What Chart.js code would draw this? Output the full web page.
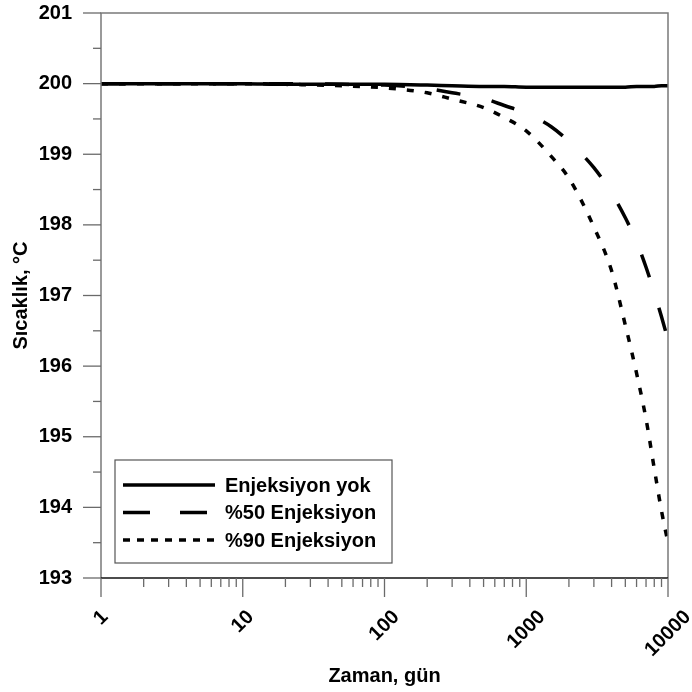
<!DOCTYPE html>
<html>
<head>
<meta charset="utf-8">
<script src="https://cdn.jsdelivr.net/npm/chart.js@4"></script>
<style>
  html, body { margin: 0; padding: 0; background: #fff; }
  #wrap { width: 692px; height: 692px; }
</style>
</head>
<body>
<div id="wrap"><canvas id="tempChart"></canvas></div>
<script>
// zaman (gün) ve sıcaklık değerleri
const days = [1, 2, 5, 10, 20, 50, 100, 200, 300, 500, 700, 1000, 1500, 2000, 3000, 4000, 5000, 6000, 7000, 8000, 9000, 10000];
const noInjection = [200.00, 200.00, 200.00, 200.00, 199.99, 199.99, 199.99, 199.98, 199.97, 199.96, 199.96, 199.95, 199.95, 199.95, 199.95, 199.95, 199.95, 199.96, 199.96, 199.96, 199.97, 199.97];
const injection50 = [200.00, 200.00, 200.00, 200.00, 200.00, 199.99, 199.98, 199.93, 199.87, 199.79, 199.69, 199.58, 199.39, 199.18, 198.81, 198.45, 198.10, 197.76, 197.40, 197.04, 196.70, 196.37];
const injection90 = [200.00, 200.00, 200.00, 200.00, 199.99, 199.97, 199.94, 199.87, 199.78, 199.66, 199.52, 199.33, 198.97, 198.66, 197.97, 197.35, 196.58, 195.90, 195.25, 194.55, 193.95, 193.50];
const seriesNames = ['Enjeksiyon yok', '%50 Enjeksiyon', '%90 Enjeksiyon'];
const xTickValues = [1, 10, 100, 1000, 10000];
const xTickLabels = ['1', '10', '100', '1000', '10000'];

const FONT = '"Liberation Sans", Arial, sans-serif';
Chart.defaults.color = '#000';
Chart.defaults.font.family = FONT;

function points(vals) {
    return days.map((d, i) => ({ x: d, y: vals[i] }));
}

// eksen çerçevesi, tik çizgileri, x etiketleri ve lejant
const framePlugin = {
    id: 'framePlugin',
    afterDraw(chart) {
        const { ctx, chartArea: a, scales: { x, y } } = chart;
        ctx.save();

        // çerçeve
        ctx.lineWidth = 1.5;
        ctx.strokeStyle = '#7a7a7a';
        ctx.beginPath();
        ctx.moveTo(a.left, a.bottom); ctx.lineTo(a.left, a.top);
        ctx.lineTo(a.right, a.top); ctx.lineTo(a.right, a.bottom);
        ctx.stroke();
        ctx.strokeStyle = '#111';
        ctx.beginPath();
        ctx.moveTo(a.left, a.bottom); ctx.lineTo(a.right, a.bottom);
        ctx.stroke();

        // y tikleri
        ctx.strokeStyle = '#6a6a6a';
        ctx.lineWidth = 1.3;
        for (let v = 193; v <= 201; v += 0.5) {
            const py = y.getPixelForValue(v);
            const len = Number.isInteger(v) ? 18 : 8;
            ctx.beginPath();
            ctx.moveTo(a.left - len, py); ctx.lineTo(a.left, py);
            ctx.stroke();
        }
        // x tikleri (logaritmik)
        for (let k = 0; k <= 4; k++) {
            for (let m = 1; m <= 9; m++) {
                const v = m * Math.pow(10, k);
                if (v > 10000) break;
                const px = x.getPixelForValue(v);
                const len = m === 1 ? 19 : 9;
                ctx.beginPath();
                ctx.moveTo(px, a.bottom); ctx.lineTo(px, a.bottom + len);
                ctx.stroke();
            }
        }

        // x etiketleri, 45 derece
        ctx.fillStyle = '#000';
        ctx.font = 'bold 20px ' + FONT;
        ctx.textAlign = 'center';
        ctx.textBaseline = 'middle';
        xTickValues.forEach((v, i) => {
            const px = x.getPixelForValue(v);
            const w = ctx.measureText(xTickLabels[i]).width;
            const cy = a.bottom + 31 + (w / 2 + 7) * Math.SQRT1_2;
            ctx.save();
            ctx.translate(px, cy);
            ctx.rotate(-Math.PI / 4);
            ctx.fillText(xTickLabels[i], 0, 0);
            ctx.restore();
        });

        // lejant
        const bx = a.left + 14, by = a.bottom - 118, bw = 277, bh = 103;
        ctx.fillStyle = '#fff';
        ctx.fillRect(bx, by, bw, bh);
        ctx.strokeStyle = '#555';
        ctx.lineWidth = 1.2;
        ctx.strokeRect(bx, by, bw, bh);
        const dashes = [[], [27, 30], [7, 7]];
        chart.data.datasets.forEach((ds, i) => {
            const ly = by + 25 + i * 27.5;
            ctx.strokeStyle = '#000';
            ctx.lineWidth = 3.5;
            ctx.setLineDash(dashes[i]);
            ctx.beginPath();
            ctx.moveTo(bx + 8, ly); ctx.lineTo(bx + 100, ly);
            ctx.stroke();
            ctx.setLineDash([]);
            ctx.fillStyle = '#000';
            ctx.textAlign = 'left';
            ctx.fillText(ds.label, bx + 110, ly + 1);
        });
        ctx.restore();
    }
};

const ctx = document.getElementById('tempChart').getContext('2d');
const tempChart = new Chart(ctx, {
    type: 'line',
    data: {
        datasets: [
            { label: seriesNames[0], data: points(noInjection), borderColor: '#000', borderWidth: 3.5, borderDash: [] },
            { label: seriesNames[1], data: points(injection50), borderColor: '#000', borderWidth: 3.5, borderDash: [24, 32] },
            { label: seriesNames[2], data: points(injection90), borderColor: '#000', borderWidth: 3.5, borderDash: [7, 11] }
        ]
    },
    options: {
        responsive: true,
        maintainAspectRatio: false,
        animation: false,
        elements: { point: { radius: 0 }, line: { cubicInterpolationMode: 'monotone', fill: false } },
        layout: { padding: { top: 13, right: 24, left: 8, bottom: 2 } },
        plugins: { legend: { display: false }, tooltip: { enabled: false } },
        scales: {
            x: {
                type: 'logarithmic',
                min: 1,
                max: 10000,
                grid: { display: false, drawTicks: false },
                border: { display: false },
                ticks: { display: false },
                title: { display: true, text: 'Zaman, gün', font: { size: 20, weight: 'bold' }, padding: { top: 0, bottom: 2 } },
                afterFit(scale) { scale.height = 112; scale.paddingLeft = 0; scale.paddingRight = 0; }
            },
            y: {
                min: 193,
                max: 201,
                grid: { display: false, drawTicks: false },
                border: { display: false },
                ticks: { stepSize: 1, padding: 29, font: { size: 20, weight: 'bold' } },
                title: { display: true, text: 'Sıcaklık, °C', font: { size: 20, weight: 'bold' }, padding: { top: 1.5, bottom: 0 } },
                afterFit(scale) { scale.width = 93; scale.paddingTop = 0; scale.paddingBottom = 0; }
            }
        }
    },
    plugins: [framePlugin]
});
</script>
</body>
</html>
